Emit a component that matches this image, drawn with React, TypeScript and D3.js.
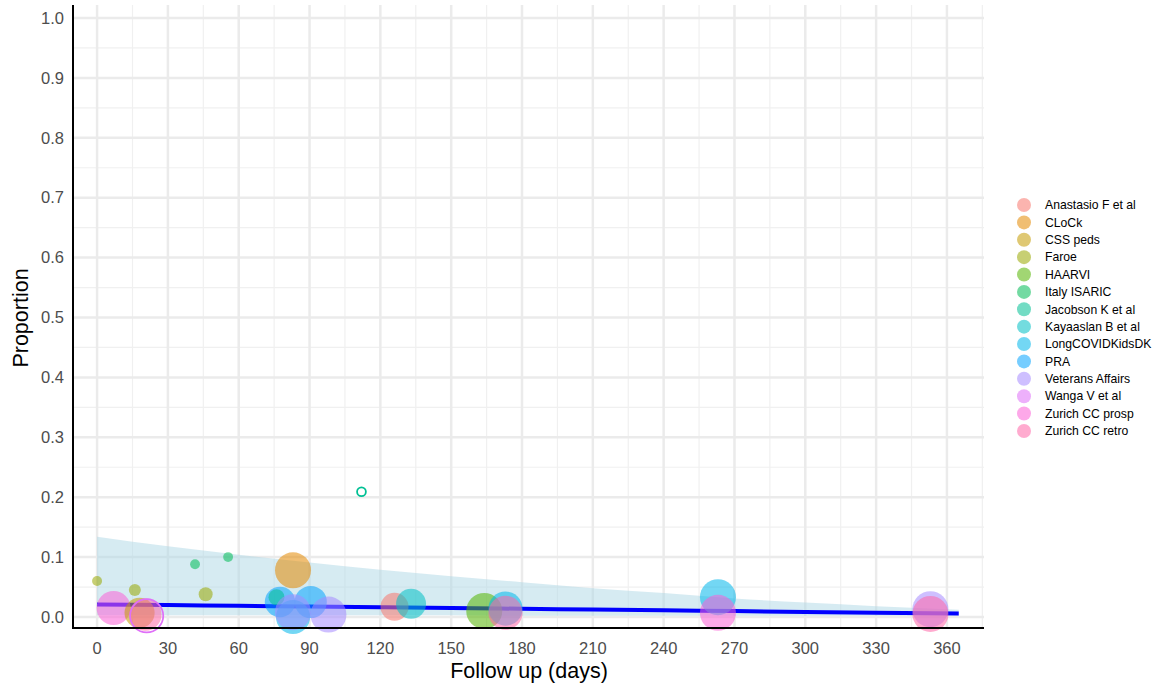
import React from "react";
import * as d3 from "d3";

const studies = [
  "Anastasio F et al", "CLoCk", "CSS peds", "Faroe", "HAARVI", "Italy ISARIC",
  "Jacobson K et al", "Kayaaslan B et al", "LongCOVIDKidsDK", "PRA",
  "Veterans Affairs", "Wanga V et al", "Zurich CC prosp", "Zurich CC retro",
];
const studyColors = [
  "#F8766D", "#E38900", "#C49A00", "#99A800", "#53B400", "#00BC56", "#00C094",
  "#00BFC4", "#00B6EB", "#06A4FF", "#A58AFF", "#DF70F8", "#FB61D7", "#FF66A8",
];

// points (drawing order)
const pointStudy = [
  "Faroe", "Faroe", "Faroe", "Italy ISARIC", "Italy ISARIC",
  "Zurich CC prosp", "CSS peds", "Zurich CC retro", "Wanga V et al",
  "CLoCk", "PRA", "PRA", "Jacobson K et al", "LongCOVIDKidsDK", "Veterans Affairs", "Veterans Affairs",
  "Anastasio F et al", "Kayaaslan B et al", "HAARVI", "LongCOVIDKidsDK", "Zurich CC retro",
  "LongCOVIDKidsDK", "Zurich CC prosp", "Veterans Affairs", "Zurich CC retro", "Jacobson K et al",
];
const pointDays = [
  0, 16, 46, 41.5, 55.5,
  7, 18, 20.5, 21,
  83, 77.5, 90.5, 76, 83, 83, 98,
  126, 133, 164, 173, 173,
  263, 263, 353, 353, 112,
];
const pointProp = [
  0.060, 0.045, 0.038, 0.088, 0.100,
  0.015, 0.007, 0.004, 0.002,
  0.078, 0.025, 0.025, 0.033, 0.000, 0.008, 0.004,
  0.017, 0.022, 0.010, 0.014, 0.007,
  0.033, 0.007, 0.013, 0.005, 0.209,
];
const pointN = [
  77, 111, 151, 75, 75,
  892, 700, 800, 850,
  1000, 720, 800, 198, 900, 1000, 1000,
  605, 694, 1000, 900, 900,
  1000, 1000, 1000, 1000, 60,
];
const pointHollow = [
  false, false, false, false, false,
  false, false, false, true,
  false, false, false, false, false, false, false,
  false, false, false, false, false,
  false, false, false, false, true,
];

// meta-regression fit and confidence band
const fitDays = [0, 30, 60, 90, 120, 150, 180, 210, 240, 270, 300, 330, 365];
const fitMid = [0.021, 0.0198, 0.0186, 0.0174, 0.0162, 0.0150, 0.0137, 0.0124, 0.0111, 0.0098, 0.0085, 0.0072, 0.006];
const fitUpper = [0.134, 0.118, 0.104, 0.091, 0.079, 0.068, 0.058, 0.048, 0.040, 0.031, 0.024, 0.018, 0.012];
const fitLower = [0.003, 0.003, 0.003, 0.003, 0.003, 0.003, 0.002, 0.002, 0.002, 0.002, 0.002, 0.002, 0.002];

const xMajor = [0, 30, 60, 90, 120, 150, 180, 210, 240, 270, 300, 330, 360];
const xMinor = [15, 45, 75, 105, 135, 165, 195, 225, 255, 285, 315, 345, 375];
const yMajor = [0, 0.1, 0.2, 0.3, 0.4, 0.5, 0.6, 0.7, 0.8, 0.9, 1.0];
const yMinor = [0.05, 0.15, 0.25, 0.35, 0.45, 0.55, 0.65, 0.75, 0.85, 0.95];

const FONT = "'Liberation Sans', Arial, sans-serif";

export default function App() {
  const left = 73, right = 984, top = 5, bottom = 628;
  const x = d3.scaleLinear().domain([-10.2, 375.7]).range([left, right]);
  const y = d3.scaleLinear().domain([-0.0184, 1.0217]).range([bottom, top]);
  const r = d3.scaleSqrt().domain([0, 1000]).range([0, 18]);
  const color = d3.scaleOrdinal<string, string>().domain(studies).range(studyColors);

  const area = d3.area<number>()
    .x((_, i) => x(fitDays[i]))
    .y0((_, i) => y(fitLower[i]))
    .y1((_, i) => y(fitUpper[i]))
    .curve(d3.curveMonotoneX);
  const line = d3.line<number>()
    .x((_, i) => x(fitDays[i]))
    .y((_, i) => y(fitMid[i]))
    .curve(d3.curveMonotoneX);

  const legendY0 = 205, legendStep = 17.38;

  return (
    <svg width={1157} height={687} style={{ position: "absolute", left: 0, top: 0 }} fontFamily={FONT}>
      <rect x={0} y={0} width={1157} height={687} fill="#fff" />
      {/* grid */}
      {yMinor.map((v) => (
        <line key={"ym" + v} x1={left} x2={right} y1={y(v)} y2={y(v)} stroke="#F0F0F0" strokeWidth={1.2} />
      ))}
      {xMinor.map((v) => (
        <line key={"xm" + v} x1={x(v)} x2={x(v)} y1={top} y2={bottom} stroke="#F0F0F0" strokeWidth={1.2} />
      ))}
      {yMajor.map((v) => (
        <line key={"yM" + v} x1={left} x2={right} y1={y(v)} y2={y(v)} stroke="#EBEBEB" strokeWidth={2.5} />
      ))}
      {xMajor.map((v) => (
        <line key={"xM" + v} x1={x(v)} x2={x(v)} y1={top} y2={bottom} stroke="#EBEBEB" strokeWidth={2.5} />
      ))}
      {/* ribbon and fit */}
      <path d={area(fitDays) || ""} fill="#ADD8E6" fillOpacity={0.5} />
      <path d={line(fitDays) || ""} fill="none" stroke="#0000FF" strokeWidth={4} />
      {/* points */}
      {pointDays.map((d, i) => {
        const c = color(pointStudy[i]);
        return pointHollow[i] ? (
          <circle key={"p" + i} cx={x(d)} cy={y(pointProp[i])} r={r(pointN[i])}
            fill="none" stroke={c} strokeWidth={1.8} />
        ) : (
          <circle key={"p" + i} cx={x(d)} cy={y(pointProp[i])} r={r(pointN[i])}
            fill={c} fillOpacity={0.55} />
        );
      })}
      {/* axes */}
      <line x1={left} x2={left} y1={top} y2={bottom + 1} stroke="#000" strokeWidth={2} />
      <line x1={left - 1} x2={right} y1={bottom} y2={bottom} stroke="#000" strokeWidth={2} />
      {yMajor.map((v) => (
        <text key={"yt" + v} x={64} y={y(v)} dy="0.35em" textAnchor="end" fontSize={16.5} fill="#4D4D4D">
          {d3.format(".1f")(v)}
        </text>
      ))}
      {xMajor.map((v) => (
        <text key={"xt" + v} x={x(v)} y={648} dy="0.35em" textAnchor="middle" fontSize={16.5} fill="#4D4D4D">
          {v}
        </text>
      ))}
      <text x={529} y={670} dy="0.35em" textAnchor="middle" fontSize={21.5} fill="#000">Follow up (days)</text>
      <text transform={`translate(20,318) rotate(-90)`} dy="0.35em" textAnchor="middle" fontSize={21.5} fill="#000">Proportion</text>
      {/* legend */}
      {studies.map((s, i) => (
        <g key={"lg" + i} transform={`translate(0,${legendY0 + i * legendStep})`}>
          <circle cx={1024} cy={0} r={7} fill={color(s)} fillOpacity={0.55} />
          <text x={1045} y={0} dy="0.35em" fontSize={12.2} fill="#000">{s}</text>
        </g>
      ))}
    </svg>
  );
}
